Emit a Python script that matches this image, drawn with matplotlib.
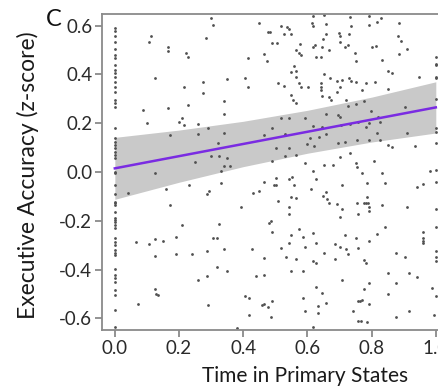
import matplotlib.pyplot as plt
import numpy as np

plt.rcParams['font.family'] = ['Lato', 'DejaVu Sans']
plt.rcParams['axes.unicode_minus'] = False

# executive accuracy for participants with no time in primary states
zero_time_acc = [0.589, 0.579, 0.557, 0.534, 0.503, 0.48, 0.466, 0.439, 0.418,
                 0.404, 0.391, 0.37, 0.35, 0.329, 0.295, 0.281, 0.268, 0.179,
                 0.138, 0.124, 0.111, 0.097, 0.083, 0.07, 0.056, -0.005,
                 0.001, -0.053, -0.09, -0.122, -0.128, -0.135, -0.163, -0.19,
                 -0.197, -0.203, -0.217, -0.231, -0.272, -0.286, -0.299, -0.32,
                 -0.331, -0.34, -0.399, -0.422, -0.436, -0.45, -0.484, -0.504,
                 -0.566, -0.634]

# executive accuracy for participants always in primary states
full_time_acc = [0.47, 0.445, 0.438, 0.391, 0.385, 0.298, 0.179, 0.164, 0.118,
                 0.008, -0.04, -0.153, -0.227, -0.322, -0.35, -0.363, -0.508]

# everyone else: (time in primary states, executive accuracy)
mid_points = [
    (0.114, 0.557), (0.107, 0.534), (0.166, 0.514), (0.166, 0.497), (0.223, 0.489),
    (0.228, 0.473), (0.125, 0.387), (0.215, 0.347), (0.228, 0.275), (0.088, 0.254),
    (0.166, 0.261), (0.099, 0.2), (0.208, 0.22), (0.2, 0.206), (0.215, 0.193),
    (0.173, 0.152), (0.125, -0.003),
    (0.041, -0.087), (0.159, -0.07), (0.173, -0.135), (0.208, -0.217), (0.19, -0.268),
    (0.065, -0.286), (0.107, -0.295), (0.125, -0.276), (0.149, -0.281), (0.125, -0.343),
    (0.19, -0.337), (0.125, -0.481), (0.128, -0.501), (0.135, -0.504), (0.073, -0.542),
    (0.231, -0.053),
    (0.299, 0.63), (0.306, 0.602), (0.449, 0.612), (0.476, 0.575), (0.483, 0.575),
    (0.283, 0.548), (0.49, 0.53), (0.465, 0.486), (0.415, 0.468), (0.473, 0.456),
    (0.275, 0.37), (0.348, 0.38), (0.407, 0.384), (0.415, 0.35), (0.275, 0.322),
    (0.341, 0.292), (0.341, 0.238), (0.258, 0.197), (0.291, 0.179), (0.49, 0.179),
    (0.341, 0.158), (0.258, 0.156), (0.465, 0.152), (0.322, 0.12), (0.299, 0.066),
    (0.324, 0.066), (0.348, 0.056), (0.251, 0.042), (0.49, 0.046), (0.341, 0.025),
    (0.358, 0.025), (0.332, 0.005),
    (0.332, -0.044), (0.293, -0.077), (0.286, -0.09), (0.465, -0.04), (0.496, -0.053),
    (0.431, -0.085), (0.449, -0.077), (0.393, -0.145), (0.324, -0.213), (0.486, -0.2),
    (0.48, -0.208), (0.49, -0.245), (0.306, -0.272), (0.317, -0.272), (0.241, -0.336),
    (0.286, -0.324), (0.341, -0.317), (0.426, -0.317), (0.465, -0.354), (0.317, -0.391),
    (0.348, -0.408), (0.258, -0.443), (0.286, -0.426), (0.441, -0.426), (0.465, -0.422),
    (0.407, -0.508), (0.417, -0.518), (0.291, -0.545), (0.457, -0.545), (0.465, -0.541),
    (0.476, -0.552), (0.49, -0.531), (0.417, -0.586), (0.486, -0.593), (0.382, -0.641),
    (0.616, 0.639), (0.651, 0.643), (0.732, 0.634), (0.613, 0.612), (0.618, 0.598),
    (0.659, 0.607), (0.519, 0.598), (0.537, 0.593), (0.543, 0.585), (0.737, 0.598),
    (0.526, 0.566), (0.55, 0.566), (0.659, 0.568), (0.699, 0.571), (0.703, 0.557),
    (0.73, 0.566), (0.506, 0.53), (0.649, 0.544), (0.576, 0.527), (0.616, 0.514),
    (0.623, 0.52), (0.647, 0.511), (0.701, 0.534), (0.717, 0.514), (0.727, 0.52),
    (0.748, 0.489), (0.564, 0.5), (0.574, 0.489), (0.579, 0.48), (0.668, 0.5),
    (0.626, 0.473), (0.641, 0.47), (0.751, 0.456), (0.558, 0.434), (0.55, 0.411),
    (0.566, 0.415), (0.564, 0.391), (0.651, 0.402), (0.67, 0.384), (0.691, 0.374),
    (0.709, 0.377), (0.73, 0.384), (0.737, 0.374), (0.751, 0.37), (0.509, 0.363),
    (0.526, 0.352), (0.574, 0.366), (0.579, 0.35), (0.602, 0.347), (0.641, 0.366),
    (0.641, 0.347), (0.641, 0.336), (0.701, 0.347), (0.691, 0.329), (0.55, 0.316),
    (0.555, 0.295), (0.564, 0.284), (0.644, 0.311), (0.668, 0.306), (0.675, 0.295),
    (0.72, 0.295), (0.727, 0.27), (0.751, 0.279), (0.519, 0.22), (0.543, 0.22),
    (0.592, 0.22), (0.659, 0.238), (0.696, 0.234), (0.701, 0.227), (0.618, 0.189),
    (0.644, 0.186), (0.706, 0.193), (0.732, 0.197), (0.758, 0.206), (0.53, 0.156),
    (0.607, 0.138), (0.637, 0.142), (0.657, 0.156), (0.502, 0.097), (0.543, 0.097),
    (0.599, 0.115), (0.62, 0.107), (0.696, 0.12), (0.717, 0.124), (0.755, 0.131),
    (0.53, 0.066), (0.564, 0.07), (0.592, 0.038), (0.651, 0.029), (0.68, 0.029),
    (0.732, 0.077), (0.701, 0.063), (0.751, 0.038), (0.753, 0.022),
    (0.616, 0.005), (0.502, -0.026), (0.502, -0.053), (0.543, -0.03), (0.553, -0.022),
    (0.558, -0.053), (0.626, -0.03), (0.61, -0.071), (0.709, -0.053), (0.509, -0.118),
    (0.55, -0.104), (0.566, -0.108), (0.543, -0.142), (0.543, -0.172), (0.657, -0.081),
    (0.649, -0.098), (0.661, -0.112), (0.668, -0.128), (0.691, -0.131), (0.709, -0.153),
    (0.701, -0.183), (0.755, -0.126), (0.758, -0.172), (0.574, -0.235), (0.55, -0.258),
    (0.585, -0.265), (0.618, -0.249), (0.543, -0.29), (0.626, -0.29), (0.519, -0.313),
    (0.592, -0.306), (0.685, -0.295), (0.701, -0.306), (0.72, -0.317), (0.727, -0.336),
    (0.717, -0.258), (0.751, -0.272), (0.758, -0.313), (0.533, -0.347), (0.566, -0.358),
    (0.651, -0.333), (0.685, -0.358), (0.616, -0.363), (0.626, -0.374), (0.55, -0.404),
    (0.585, -0.404), (0.709, -0.443), (0.626, -0.47), (0.644, -0.497), (0.585, -0.518),
    (0.659, -0.536), (0.634, -0.549), (0.592, -0.568), (0.634, -0.577), (0.758, -0.531),
    (0.742, -0.568), (0.616, -0.634), (0.758, -0.609),
    (0.793, 0.639), (0.828, 0.63), (0.817, 0.616), (0.793, 0.602), (0.885, 0.612),
    (0.883, 0.557), (0.893, 0.538), (0.814, 0.516), (0.802, 0.511), (0.885, 0.484),
    (0.911, 0.503), (0.833, 0.459), (0.852, 0.415), (0.862, 0.407), (0.949, 0.388),
    (0.783, 0.366), (0.81, 0.37), (0.771, 0.336), (0.852, 0.339), (0.776, 0.292),
    (0.797, 0.251), (0.903, 0.265), (0.82, 0.227), (0.825, 0.206), (0.793, 0.202),
    (0.781, 0.183), (0.817, 0.158), (0.911, 0.158), (0.793, 0.131), (0.825, 0.131),
    (0.852, 0.111), (0.864, 0.101), (0.935, 0.107), (0.807, 0.046), (0.771, -0.003),
    (0.833, -0.003),
    (0.983, 0.005), (0.786, -0.046), (0.841, -0.044), (0.942, -0.063), (0.96, -0.049),
    (0.786, -0.104), (0.776, -0.128), (0.783, -0.128), (0.789, -0.126), (0.793, -0.145),
    (0.793, -0.159), (0.833, -0.135), (0.911, -0.142), (0.843, -0.227), (0.817, -0.254),
    (0.96, -0.245), (0.96, -0.272), (0.96, -0.281), (0.96, -0.292), (0.793, -0.281),
    (0.876, -0.331), (0.903, -0.35), (0.776, -0.361), (0.783, -0.372), (0.852, -0.413),
    (0.918, -0.413), (0.942, -0.432), (0.876, -0.456), (0.793, -0.454), (0.987, -0.477),
    (0.776, -0.481), (0.852, -0.5), (0.765, -0.527), (0.771, -0.525), (0.793, -0.541),
    (0.918, -0.572), (0.994, -0.586), (0.876, -0.596), (0.768, -0.613), (0.786, -0.617),
]

# linear fit and its 95% confidence band
fit_intercept = 0.015
fit_slope = 0.25
band_x = [0.0, 0.2, 0.4, 0.6, 0.8, 1.0]
band_halfwidth = [0.127, 0.107, 0.093, 0.088, 0.092, 0.105]

time_mid, acc_mid = np.array(mid_points).T
times = np.concatenate([np.zeros(len(zero_time_acc)), time_mid,
                        np.ones(len(full_time_acc))])
accs = np.concatenate([zero_time_acc, acc_mid, full_time_acc])

band_x = np.array(band_x)
band_fit = fit_intercept + fit_slope * band_x
band_halfwidth = np.array(band_halfwidth)

fig = plt.figure(figsize=(4.39, 3.90), dpi=100)
ax = fig.add_axes([0.2323, 0.1538, 0.8043, 0.8103])

ax.fill_between(band_x, band_fit - band_halfwidth, band_fit + band_halfwidth,
                color='#c9c9c9', lw=0, zorder=1)
ax.scatter(times, accs, s=4, color='#505050', lw=0, zorder=2)
ax.plot(band_x, band_fit, color='#7a2be2', lw=1.8, zorder=3)

ax.set_xlim(-0.04, 1.06)
ax.set_ylim(-0.648, 0.648)
ax.set_xticks(np.arange(0, 1.01, 0.2))
ax.set_xticklabels(['0.0', '0.2', '0.4', '0.6', '0.8', '1.0'])
ax.set_yticks(np.arange(-0.6, 0.61, 0.2))
ax.set_yticklabels(['-0.6', '-0.4', '-0.2', '0.0', '0.2', '0.4', '0.6'])

for side in ['left', 'bottom', 'top']:
    ax.spines[side].set_color('#8a8a8a')
    ax.spines[side].set_linewidth(1.3)
ax.spines['right'].set_visible(False)
ax.tick_params(axis='both', color='#8a8a8a', width=1.3, length=5,
               labelsize=13.5, labelcolor='#2a2a2a', pad=2)

ax.set_xlabel('Time in Primary States', fontsize=15, color='#1a1a1a')
ax.xaxis.set_label_coords(0.575, -0.115)
ax.set_ylabel('Executive Accuracy (z-score)', fontsize=16.5, color='#1a1a1a')
ax.yaxis.set_label_coords(-0.178, 0.49)

fig.text(54 / 439, 1 - 20 / 390, 'C', ha='center', va='center', fontsize=17,
         color='#111111')

fig.savefig('out.png', dpi=100)
